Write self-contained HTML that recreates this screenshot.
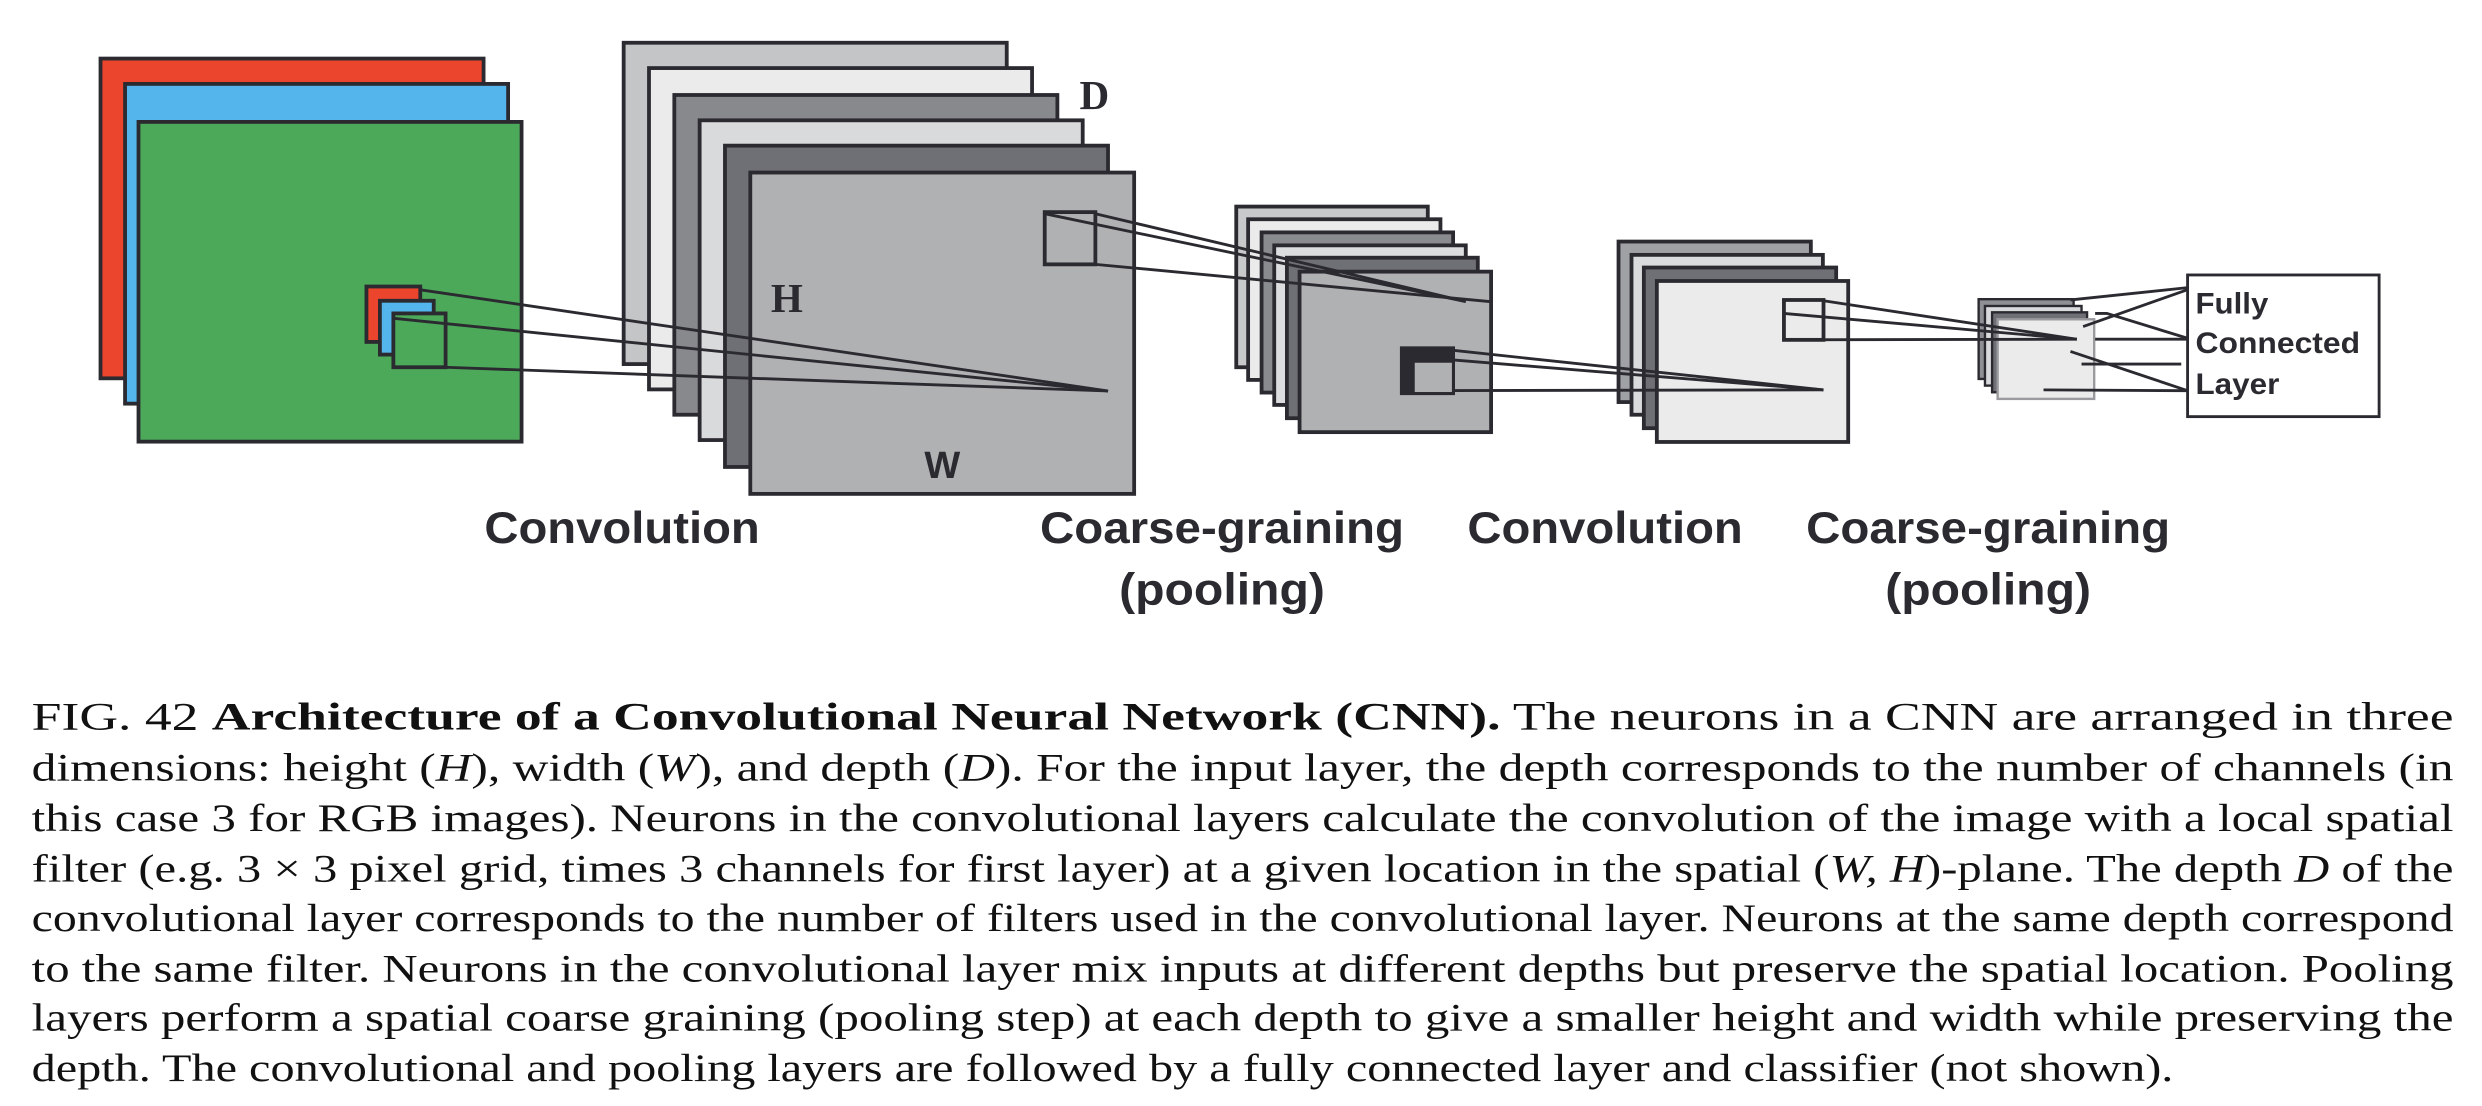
<!DOCTYPE html>
<html><head><meta charset="utf-8"><style>
html,body{margin:0;padding:0;background:#fff;width:2482px;height:1106px;overflow:hidden}
svg{display:block}
.l{font-family:"Liberation Sans",sans-serif;font-weight:bold;fill:#2a2a30}
.c{font-family:"Liberation Serif",serif;font-size:25px;fill:#111}
</style></head><body>
<svg width="2482" height="1106" viewBox="0 0 1568 698.7" xmlns="http://www.w3.org/2000/svg">
<g stroke="#2a2a30" stroke-width="2.4">
<rect x="63.5" y="37" width="242" height="202" fill="#ec452d"/>
<rect x="79" y="53" width="242" height="202" fill="#53b5eb"/>
<rect x="87.5" y="77" width="242" height="202" fill="#4ca95a"/>
<rect x="231.5" y="181" width="34" height="35" fill="#ec452d"/>
<rect x="240" y="190" width="34" height="34" fill="#53b5eb"/>
<rect x="248.5" y="198" width="33" height="34" fill="#4ca95a"/>
<rect x="394" y="27" width="242" height="203" fill="#c4c5c7"/>
<rect x="410" y="43" width="242" height="203" fill="#ebebeb"/>
<rect x="426" y="60" width="242" height="202" fill="#88898d"/>
<rect x="442" y="76" width="242" height="202" fill="#d9dadc"/>
<rect x="458" y="92" width="242" height="203" fill="#6f7075"/>
<rect x="474" y="109" width="242.5" height="203" fill="#b0b1b3"/>
<rect x="660" y="134" width="32" height="33" fill="none"/>
<rect x="781" y="130.5" width="121" height="101.5" fill="#c8c9cb"/>
<rect x="788.5" y="138.5" width="121.5" height="101.5" fill="#ebebeb"/>
<rect x="797" y="146.8" width="121" height="101.2" fill="#8a8b8f"/>
<rect x="805" y="155" width="121" height="100.8" fill="#dcdddf"/>
<rect x="813" y="162.8" width="120.6" height="101.4" fill="#6f7075"/>
<rect x="821" y="171.6" width="121" height="101.4" fill="#b0b1b3"/>
<rect x="885.6" y="220" width="32.4" height="28.4" fill="#2a2a30"/>
<rect x="893" y="228.4" width="25" height="20" fill="#b0b1b3" stroke-width="1.5"/>
<rect x="1022.5" y="152.6" width="121.5" height="101.4" fill="#a0a1a4"/>
<rect x="1030.7" y="161" width="120.9" height="101" fill="#dadbdd"/>
<rect x="1038.5" y="169" width="121.5" height="101.5" fill="#6f7075"/>
<rect x="1046.7" y="177.5" width="120.9" height="101.7" fill="#ebebeb"/>
<rect x="1127" y="189.5" width="25" height="25.2" fill="none"/>
<g stroke-width="1.5">
<rect x="1250" y="189" width="60" height="50.4" fill="#8f9094"/>
<rect x="1254" y="193.3" width="61" height="50.3" fill="#d9dadc"/>
<rect x="1258.5" y="197.3" width="60" height="50.5" fill="#6f7075"/>
<rect x="1262" y="201.7" width="61" height="50.3" fill="#ebebeb" stroke="#9a9a9e"/>
</g>
<rect x="1382" y="173.7" width="121" height="89.5" fill="#fff" stroke-width="1.8"/>
</g>
<g stroke="#2a2a30" stroke-width="1.8" fill="none">
<line x1="265" y1="183" x2="700" y2="247"/>
<line x1="248" y1="201" x2="700" y2="247"/>
<line x1="281" y1="232" x2="700" y2="247"/>
<line x1="660" y1="135" x2="926" y2="190.5"/>
<line x1="692" y1="135" x2="926" y2="190.5"/>
<line x1="692" y1="167" x2="941" y2="190.5"/>
<line x1="911.4" y1="220.6" x2="1152" y2="246.3"/>
<line x1="918" y1="227.4" x2="1152" y2="246.3"/>
<line x1="918" y1="246.7" x2="1152" y2="246.3"/>
<line x1="1152" y1="190" x2="1312" y2="214.3"/>
<line x1="1127" y1="198" x2="1312" y2="214.3"/>
<line x1="1127" y1="214.7" x2="1312" y2="214.3"/>
<line x1="1308" y1="189.5" x2="1382" y2="181.7"/>
<line x1="1316" y1="206.3" x2="1382" y2="183"/>
<polyline points="1323.6,198 1331,198 1382,213.7"/>
<line x1="1323.6" y1="214.3" x2="1382" y2="214.3"/>
<line x1="1308" y1="222" x2="1382" y2="246.8"/>
<line x1="1315" y1="230" x2="1378" y2="230"/>
<line x1="1291" y1="246.3" x2="1382" y2="246.8"/>
</g>
<g class="l">
<text x="682" y="69" font-family="Liberation Serif" font-size="26">D</text>
<text x="487" y="197" font-family="Liberation Serif" font-size="26">H</text>
<text x="584" y="302" font-size="24">W</text>
<text x="1387" y="198" font-size="19" textLength="46" lengthAdjust="spacingAndGlyphs">Fully</text>
<text x="1387" y="223" font-size="19" textLength="104" lengthAdjust="spacingAndGlyphs">Connected</text>
<text x="1387" y="249" font-size="19" textLength="53" lengthAdjust="spacingAndGlyphs">Layer</text>
<text x="306" y="343" font-size="28" textLength="174" lengthAdjust="spacingAndGlyphs">Convolution</text>
<text x="657" y="343" font-size="28" textLength="230" lengthAdjust="spacingAndGlyphs">Coarse-graining</text>
<text x="707" y="382" font-size="28" textLength="130" lengthAdjust="spacingAndGlyphs">(pooling)</text>
<text x="927" y="343" font-size="28" textLength="174" lengthAdjust="spacingAndGlyphs">Convolution</text>
<text x="1141" y="343" font-size="28" textLength="230" lengthAdjust="spacingAndGlyphs">Coarse-graining</text>
<text x="1191" y="382" font-size="28" textLength="130" lengthAdjust="spacingAndGlyphs">(pooling)</text>
</g>
<g class="c">
<text x="20" y="461" textLength="1530" lengthAdjust="spacingAndGlyphs">FIG. 42   <tspan font-weight="bold">Architecture of a Convolutional Neural Network (CNN).</tspan> The neurons in a CNN are arranged in three</text>
<text x="20" y="493" textLength="1530" lengthAdjust="spacingAndGlyphs">dimensions: height (<tspan font-style="italic">H</tspan>), width (<tspan font-style="italic">W</tspan>), and depth (<tspan font-style="italic">D</tspan>). For the input layer, the depth corresponds to the number of channels (in</text>
<text x="20" y="525" textLength="1530" lengthAdjust="spacingAndGlyphs">this case 3 for RGB images).  Neurons in the convolutional layers calculate the convolution of the image with a local spatial</text>
<text x="20" y="557" textLength="1530" lengthAdjust="spacingAndGlyphs">filter (e.g. 3 × 3 pixel grid, times 3 channels for first layer) at a given location in the spatial (<tspan font-style="italic">W, H</tspan>)-plane. The depth <tspan font-style="italic">D</tspan> of the</text>
<text x="20" y="588" textLength="1530" lengthAdjust="spacingAndGlyphs">convolutional layer corresponds to the number of filters used in the convolutional layer. Neurons at the same depth correspond</text>
<text x="20" y="620" textLength="1530" lengthAdjust="spacingAndGlyphs">to the same filter. Neurons in the convolutional layer mix inputs at different depths but preserve the spatial location. Pooling</text>
<text x="20" y="651" textLength="1530" lengthAdjust="spacingAndGlyphs">layers perform a spatial coarse graining (pooling step) at each depth to give a smaller height and width while preserving the</text>
<text x="20" y="683" textLength="1353" lengthAdjust="spacingAndGlyphs">depth. The convolutional and pooling layers are followed by a fully connected layer and classifier (not shown).</text>
</g>
</svg>
</body></html>
